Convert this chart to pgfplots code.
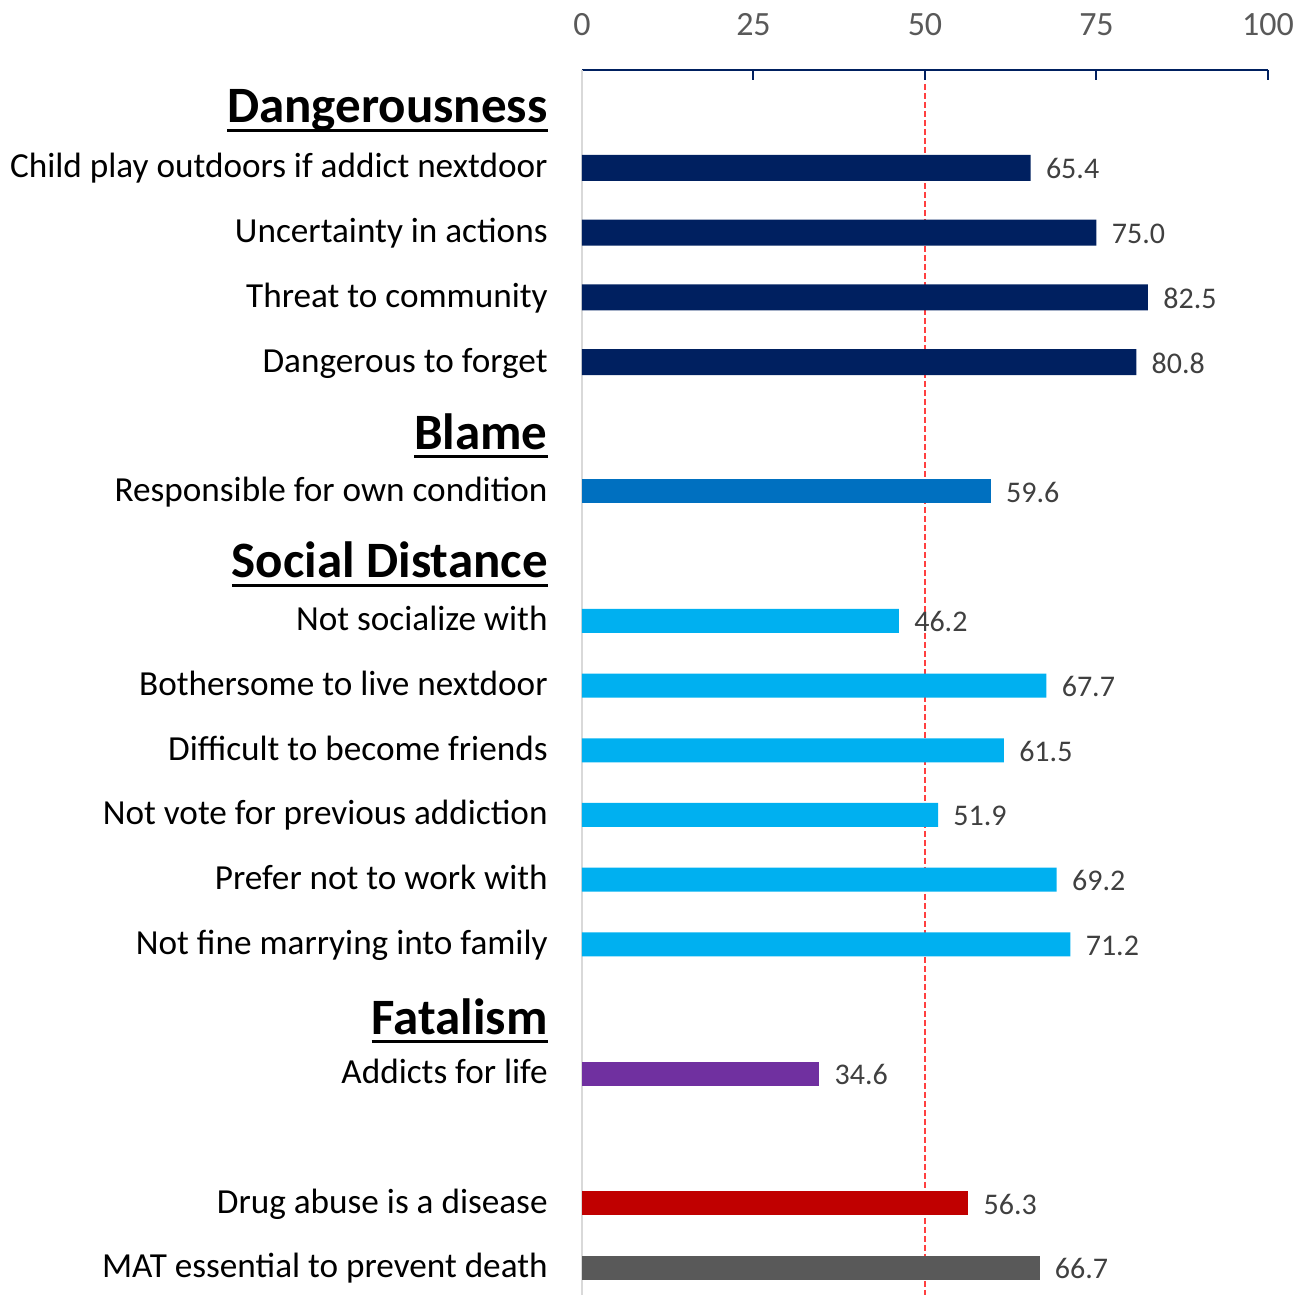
\documentclass[border=0pt]{standalone}
\usepackage{fontspec}
\setmainfont{Carlito}
\usepackage{pgfplots}
\pgfplotsset{compat=1.18}
\definecolor{cNavy}{HTML}{002060}
\definecolor{cBlue}{HTML}{0070C0}
\definecolor{cLight}{HTML}{00B0F0}
\definecolor{cPurple}{HTML}{7030A0}
\definecolor{cRed}{HTML}{C00000}
\definecolor{cGrey}{HTML}{595959}
\definecolor{cAxisY}{HTML}{D9D9D9}
\definecolor{cRefLine}{HTML}{FF4040}
\definecolor{cTxt}{HTML}{404040}
\newcommand{\hdr}[1]{\setbox0=\hbox{\fontsize{25.5}{29}\selectfont\bfseries #1}\rlap{\usebox0}\rule[-4.5pt]{\wd0}{1.5pt}}
\begin{document}
\begin{tikzpicture}
\begin{axis}[
  at={(0,0)}, anchor=south west,
  scale only axis, width=343pt, height=612.5pt,
  xmin=0, xmax=100, ymin=-17.42, ymax=1.515,
  axis x line*=top, axis y line*=left,
  x axis line style={cNavy, line width=1pt},
  y axis line style={cAxisY, line width=1pt},
  xtick={0,25,50,75,100},
  xtick align=inside,
  major tick length=5pt,
  xtick style={cNavy, line width=1pt},
  xticklabel style={font=\fontsize{17}{20}\selectfont, text=cGrey, inner sep=0pt, yshift=17pt},
  ytick={-17,-16,-14,-13.235,-12,-11,-10,-9,-8,-7,-6.177,-5,-4.195,-3,-2,-1,0,0.851},
  yticklabels={MAT essential to prevent death, Drug abuse is a disease, Addicts for life, \hdr{Fatalism},
    Not fine marrying into family, Prefer not to work with, Not vote for previous addiction, Difficult to become friends,
    Bothersome to live nextdoor, Not socialize with, \hdr{Social Distance}, Responsible for own condition, \hdr{Blame},
    Dangerous to forget, Threat to community, Uncertainty in actions, Child play outdoors if addict nextdoor, \hdr{Dangerousness}},
  ytick style={draw=none},
  yticklabel style={font=\fontsize{17.6}{20}\selectfont, text=black, anchor=base east, inner sep=0pt, xshift=-17pt, yshift=-5pt},
  /pgf/number format/assume math mode=true,
  nodes near coords={\pgfmathprintnumber[fixed,fixed zerofill,precision=1]{\pgfplotspointmeta}},
  nodes near coords style={anchor=base west, inner sep=0pt, xshift=7.5pt, yshift=-5.5pt, font=\fontsize{15}{18}\selectfont, text=cTxt},
  point meta=x,
]
\addplot[cRefLine, line width=0.6pt, dash pattern=on 3pt off 1.5pt, sharp plot, no marks, nodes near coords={}, forget plot] coordinates {(50,1.3) (50,-17.42)};
\addplot[xbar, bar shift=0pt, bar width=13pt, fill=cNavy, draw=none] coordinates {(65.4,0) (75.0,-1) (82.5,-2) (80.8,-3)};
\addplot[xbar, bar shift=0pt, bar width=12pt, fill=cBlue, draw=none] coordinates {(59.6,-5)};
\addplot[xbar, bar shift=0pt, bar width=12pt, fill=cLight, draw=none] coordinates {(46.2,-7) (67.7,-8) (61.5,-9) (51.9,-10) (69.2,-11) (71.2,-12)};
\addplot[xbar, bar shift=0pt, bar width=12pt, fill=cPurple, draw=none] coordinates {(34.6,-14)};
\addplot[xbar, bar shift=0pt, bar width=12pt, fill=cRed, draw=none] coordinates {(56.3,-16)};
\addplot[xbar, bar shift=0pt, bar width=12pt, fill=cGrey, draw=none] coordinates {(66.7,-17)};
\end{axis}
\pgfresetboundingbox
\useasboundingbox (-291pt,0pt) rectangle (360.5pt,647.5pt);
\end{tikzpicture}
\end{document}
